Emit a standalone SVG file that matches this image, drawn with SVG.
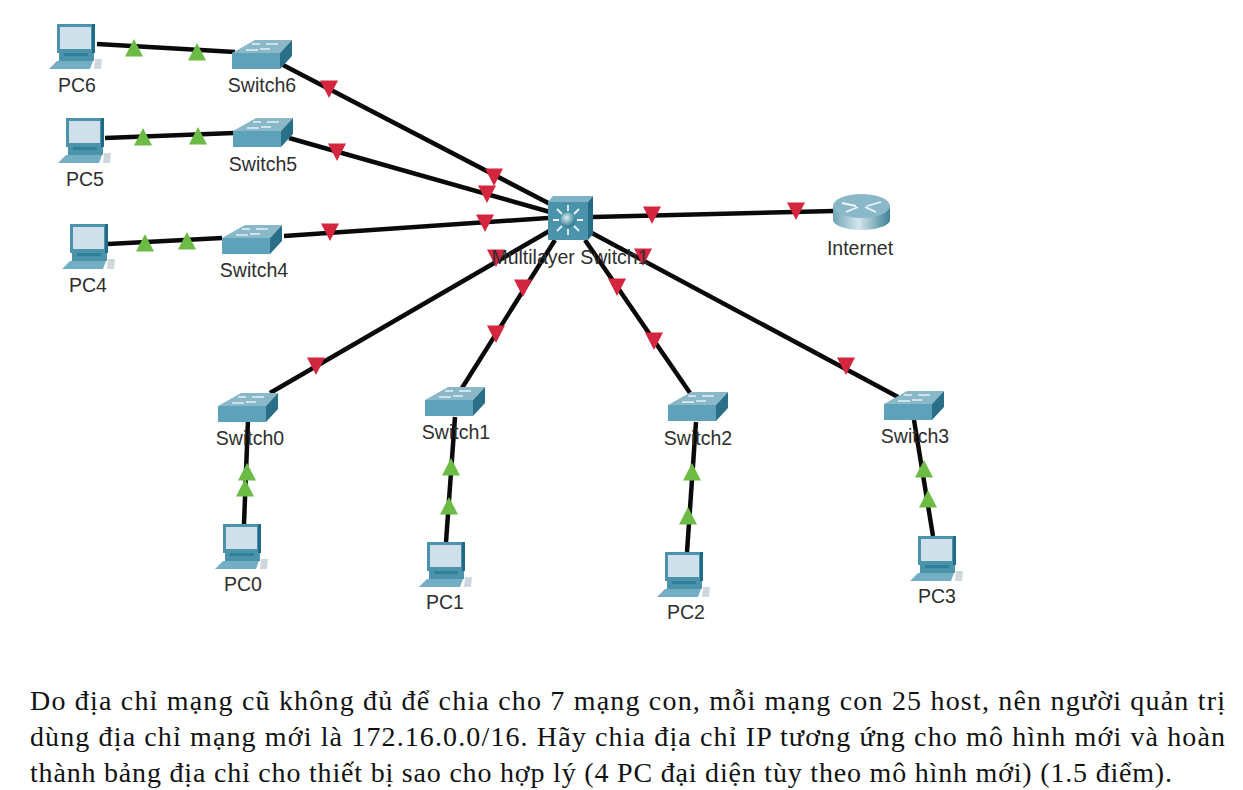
<svg xmlns="http://www.w3.org/2000/svg" width="1243" height="790" viewBox="0 0 1243 790">
<style>
.lbl{font-family:"Liberation Sans",Arial,sans-serif;font-size:19.5px;fill:#2e2e2e;text-anchor:middle}
.para{font-family:"Liberation Serif","Times New Roman",serif;font-size:28px;fill:#111}
.link{stroke:#0a0a0a;stroke-width:4.500;fill:none}
.red{fill:#d4263e}
.green{fill:#6cbb45}
</style>
<defs>
<linearGradient id="rt" x1="0" x2="1" y1="0" y2="0"><stop offset="0" stop-color="#6fa3b5"/><stop offset="0.45" stop-color="#d5e6ec"/><stop offset="1" stop-color="#3f8197"/></linearGradient>
<radialGradient id="ball" cx="0.4" cy="0.35" r="0.7"><stop offset="0" stop-color="#d7eef2"/><stop offset="1" stop-color="#1f6d84"/></radialGradient>
<polygon id="dn" class="red" points="-9,-8.500 9,-8.500 0,9"/>
<polygon id="up" class="green" points="-9,8.500 9,8.500 0,-9"/>
<g id="pc">
<polygon points="-8,45 0,37 36,37 33,45" fill="#74aec4"/>
<rect x="2" y="29" width="35" height="8" fill="#4a93ab"/>
<rect x="7" y="27" width="24" height="5" fill="#2f7f98"/>
<rect x="0" y="0" width="38" height="29" fill="#4a93ab"/>
<rect x="35" y="0" width="3" height="29" fill="#1f6a84"/>
<rect x="3" y="3" width="31" height="22" fill="#cfe0ea"/>
<polygon points="38,35 45,35 44,45 37,45" fill="#cdd8dc"/>
</g>
<g id="sw">
<polygon points="0,13 23,0 60,0 48,13" fill="#8ab8c8"/>
<rect x="0" y="13" width="48" height="16" fill="#5da2b9"/>
<polygon points="48,13 60,0 60,16 48,29" fill="#2a6f88"/>
<path d="M14,10h12M34,4h12M28,9h10M20,4h8" stroke="#e4f0f4" stroke-width="1.500" fill="none"/>
</g>
</defs>
<rect width="1243" height="790" fill="#fff"/>
<g id="connectors">
<path class="link" d="M97,44L235,52"/>
<path class="link" d="M283,65L552,205"/>
<path class="link" d="M105,138L234,133"/>
<path class="link" d="M289,138L550,212"/>
<path class="link" d="M108,244L222,238"/>
<path class="link" d="M284,236L548,218"/>
<path class="link" d="M593,217L834,211"/>
<path class="link" d="M551,230L270,393"/>
<path class="link" d="M555,240L462,388"/>
<path class="link" d="M585,240L690,393"/>
<path class="link" d="M590,232L898,397"/>
<path class="link" d="M244,524L248,420"/>
<path class="link" d="M446,542L455,417"/>
<path class="link" d="M687,552L696,422"/>
<path class="link" d="M933,536L914,420"/>
<g id="link-lights">
<use href="#up" x="134" y="48"/><use href="#up" x="197" y="52"/>
<use href="#up" x="143" y="137"/><use href="#up" x="198" y="136"/>
<use href="#up" x="145" y="243"/><use href="#up" x="187" y="241"/>
<use href="#up" x="247" y="472"/><use href="#up" x="245" y="488"/>
<use href="#up" x="451" y="467"/><use href="#up" x="449" y="506"/>
<use href="#up" x="692" y="472"/><use href="#up" x="688" y="516"/>
<use href="#up" x="924" y="469"/><use href="#up" x="928" y="499"/>
<use href="#dn" x="329" y="89"/><use href="#dn" x="494" y="177"/>
<use href="#dn" x="337" y="152"/><use href="#dn" x="487" y="194"/>
<use href="#dn" x="330" y="232"/><use href="#dn" x="485" y="223"/>
<use href="#dn" x="652" y="215"/><use href="#dn" x="796" y="211"/>
<use href="#dn" x="496" y="258"/><use href="#dn" x="316" y="366"/>
<use href="#dn" x="523" y="288"/><use href="#dn" x="496" y="334"/>
<use href="#dn" x="617" y="287"/><use href="#dn" x="654" y="341"/>
<use href="#dn" x="643" y="257"/><use href="#dn" x="846" y="366"/>
</g>
</g>
<g id="PC6"><use href="#pc" x="57" y="24"/><text class="lbl" x="77" y="92">PC6</text></g>
<g id="PC5"><use href="#pc" x="66" y="118"/><text class="lbl" x="85" y="186">PC5</text></g>
<g id="PC4"><use href="#pc" x="70" y="224"/><text class="lbl" x="88" y="292">PC4</text></g>
<g id="PC0"><use href="#pc" x="223" y="524"/><text class="lbl" x="243" y="591">PC0</text></g>
<g id="PC1"><use href="#pc" x="427" y="542"/><text class="lbl" x="445" y="609">PC1</text></g>
<g id="PC2"><use href="#pc" x="665" y="552"/><text class="lbl" x="686" y="619">PC2</text></g>
<g id="PC3"><use href="#pc" x="918" y="536"/><text class="lbl" x="937" y="603">PC3</text></g>
<g id="Switch6"><use href="#sw" x="232" y="40"/><text class="lbl" x="262" y="92">Switch6</text></g>
<g id="Switch5"><use href="#sw" x="233" y="118"/><text class="lbl" x="263" y="171">Switch5</text></g>
<g id="Switch4"><use href="#sw" x="222" y="225"/><text class="lbl" x="254" y="277">Switch4</text></g>
<g id="Switch0"><use href="#sw" x="218" y="393"/><text class="lbl" x="250" y="445">Switch0</text></g>
<g id="Switch1"><use href="#sw" x="425" y="387"/><text class="lbl" x="456" y="439">Switch1</text></g>
<g id="Switch2"><use href="#sw" x="668" y="392"/><text class="lbl" x="698" y="445">Switch2</text></g>
<g id="Switch3"><use href="#sw" x="884" y="391"/><text class="lbl" x="915" y="443">Switch3</text></g>
<g id="MultilayerSwitch1">
<polygon points="548,202 553,196 593,196 588,202" fill="#7fb2c4"/>
<polygon points="588,202 593,196 593,234 588,240" fill="#246c85"/>
<rect x="548" y="202" width="40" height="38" fill="#4a93ab"/>
<circle cx="568" cy="220" r="7.500" fill="url(#ball)"/>
<path d="M568,211V205M568,229V235M559,220H553M577,220H583M562,214L557,209M574,214L579,209M562,226L557,231M574,226L579,231" stroke="#e6f3f7" stroke-width="1.800" fill="none"/>
<text class="lbl" x="570" y="264">Multilayer Switch1</text>
</g>
<g id="Internet">
<path d="M833,206V220A28.500,10 0 0 0 890,220V206Z" fill="url(#rt)"/>
<ellipse cx="861.500" cy="206" rx="28.500" ry="12" fill="#8ab8c8"/>
<path d="M842,203l14,3M881,202l-14,4M846,212l12,-5M876,212l-11,-5" stroke="#eef6f8" stroke-width="1.800" fill="none"/>
<text class="lbl" x="860" y="255">Internet</text>
</g>
<text class="para" x="30" y="710" textLength="1195">Do địa chỉ mạng cũ không đủ để chia cho 7 mạng con, mỗi mạng con 25 host, nên người quản trị</text>
<text class="para" x="30" y="746" textLength="1195">dùng địa chỉ mạng mới là 172.16.0.0/16. Hãy chia địa chỉ IP tương ứng cho mô hình mới và hoàn</text>
<text class="para" x="30" y="782" textLength="1142">thành bảng địa chỉ cho thiết bị sao cho hợp lý (4 PC đại diện tùy theo mô hình mới) (1.5 điểm).</text>
</svg>
